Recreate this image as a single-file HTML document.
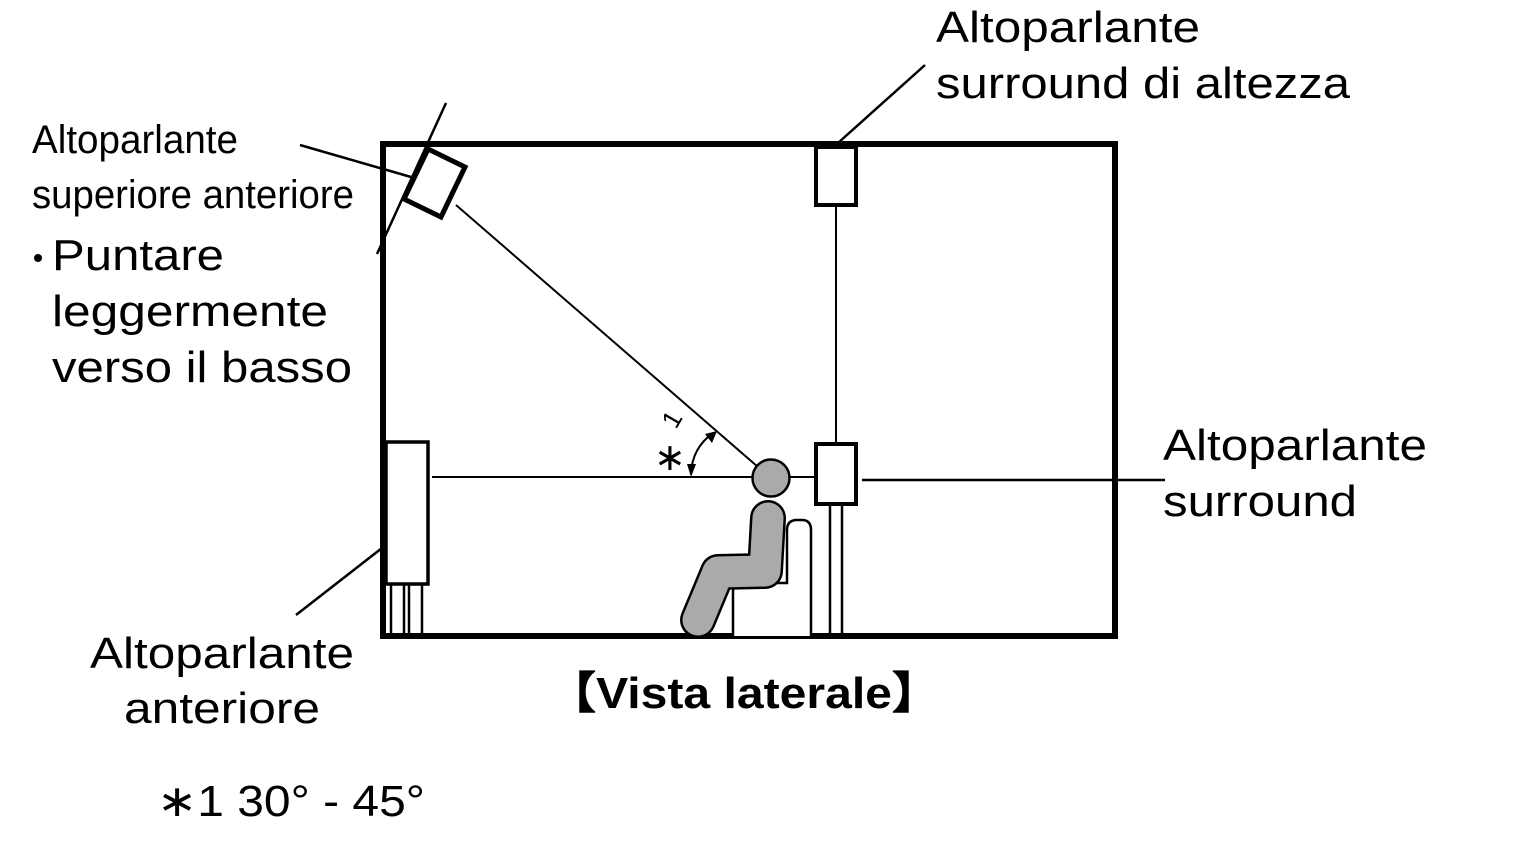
<!DOCTYPE html>
<html><head><meta charset="utf-8"><style>
html,body{margin:0;padding:0;background:#fff;}
svg{display:block;}
text{font-family:"Liberation Sans",Arial,sans-serif;fill:#000;}
</style></head><body>
<svg width="1525" height="848" viewBox="0 0 1525 848" xmlns="http://www.w3.org/2000/svg">
<!-- room -->
<rect x="383" y="144" width="732" height="492" fill="none" stroke="#000" stroke-width="6"/>
<!-- front top speaker tilted -->
<line x1="446" y1="103" x2="377" y2="254" stroke="#000" stroke-width="2.5"/>
<polygon points="428,149 465,167 441,217 404,199" fill="#fff" stroke="#000" stroke-width="5"/>
<line x1="300" y1="145" x2="411" y2="177" stroke="#000" stroke-width="2.5"/>
<!-- diagonal to head -->
<line x1="456" y1="205" x2="758" y2="467" stroke="#000" stroke-width="2"/>
<!-- horizontal line -->
<line x1="432" y1="477" x2="815" y2="477" stroke="#000" stroke-width="2"/>
<!-- height surround -->
<rect x="816" y="147" width="40" height="58" fill="#fff" stroke="#000" stroke-width="4"/>
<line x1="836" y1="205" x2="836" y2="443" stroke="#000" stroke-width="2"/>
<line x1="838" y1="143" x2="925" y2="65" stroke="#000" stroke-width="2.5"/>
<!-- surround -->
<line x1="830" y1="505" x2="830" y2="636" stroke="#000" stroke-width="2.5"/>
<line x1="842" y1="505" x2="842" y2="636" stroke="#000" stroke-width="2.5"/>
<rect x="816" y="444" width="40" height="60" fill="#fff" stroke="#000" stroke-width="4"/>
<line x1="862" y1="480" x2="1165" y2="480" stroke="#000" stroke-width="2.5"/>
<!-- front speaker -->
<line x1="391" y1="585" x2="391" y2="636" stroke="#000" stroke-width="2.5"/>
<line x1="404" y1="585" x2="404" y2="636" stroke="#000" stroke-width="2.5"/>
<line x1="409" y1="585" x2="409" y2="636" stroke="#000" stroke-width="2.5"/>
<line x1="422" y1="585" x2="422" y2="636" stroke="#000" stroke-width="2.5"/>
<rect x="386" y="442" width="42" height="142" fill="#fff" stroke="#000" stroke-width="3.5"/>
<line x1="296" y1="615" x2="382" y2="548" stroke="#000" stroke-width="2.5"/>
<!-- chair -->
<path d="M733,636 L733,592 Q733,583 742,583 L787,583 L787,530 Q787,520 797,520 L802,520 Q811,520 811,530 L811,636" fill="#fff" stroke="#000" stroke-width="2.5"/>
<!-- person -->
<path d="M768,518 L765,571 L718,572 L698,620" fill="none" stroke="#000" stroke-width="36" stroke-linecap="round" stroke-linejoin="round"/>
<path d="M768,518 L765,571 L718,572 L698,620" fill="none" stroke="#aaa" stroke-width="31" stroke-linecap="round" stroke-linejoin="round"/>
<circle cx="771" cy="478" r="18.5" fill="#aaa" stroke="#000" stroke-width="2.5"/>
<!-- angle arc -->
<path d="M691,474 Q692,448 713,433" fill="none" stroke="#000" stroke-width="2"/>
<polygon points="717,431 705,434 712,443" fill="#000"/>
<polygon points="691,477 687,464 696,464" fill="#000"/>
<text x="654" y="470" font-size="38">∗</text>
<text x="0" y="0" font-size="26" transform="translate(676,430) rotate(-60)">1</text>
<!-- labels -->
<text x="32" y="153" font-size="40" textLength="206" lengthAdjust="spacingAndGlyphs">Altoparlante</text>
<text x="32" y="208" font-size="40" textLength="322" lengthAdjust="spacingAndGlyphs">superiore anteriore</text>
<circle cx="38" cy="258" r="4" fill="#000"/>
<text x="52" y="270" font-size="44" textLength="172" lengthAdjust="spacingAndGlyphs">Puntare</text>
<text x="52" y="326" font-size="44" textLength="276" lengthAdjust="spacingAndGlyphs">leggermente</text>
<text x="52" y="382" font-size="44" textLength="300" lengthAdjust="spacingAndGlyphs">verso il basso</text>
<text x="936" y="42" font-size="44" textLength="264" lengthAdjust="spacingAndGlyphs">Altoparlante</text>
<text x="936" y="98" font-size="44" textLength="414" lengthAdjust="spacingAndGlyphs">surround di altezza</text>
<text x="1163" y="460" font-size="44" textLength="264" lengthAdjust="spacingAndGlyphs">Altoparlante</text>
<text x="1163" y="516" font-size="44" textLength="194" lengthAdjust="spacingAndGlyphs">surround</text>
<text x="90" y="668" font-size="44" textLength="264" lengthAdjust="spacingAndGlyphs">Altoparlante</text>
<text x="124" y="723" font-size="44" textLength="196" lengthAdjust="spacingAndGlyphs">anteriore</text>
<text x="548" y="708" font-size="44" font-weight="bold" textLength="392" lengthAdjust="spacingAndGlyphs" font-family="Liberation Sans, Noto Sans CJK JP, sans-serif">【Vista laterale】</text>
<text x="157" y="816" font-size="44" textLength="268" lengthAdjust="spacingAndGlyphs">∗1 30° - 45°</text>
</svg>
</body></html>
